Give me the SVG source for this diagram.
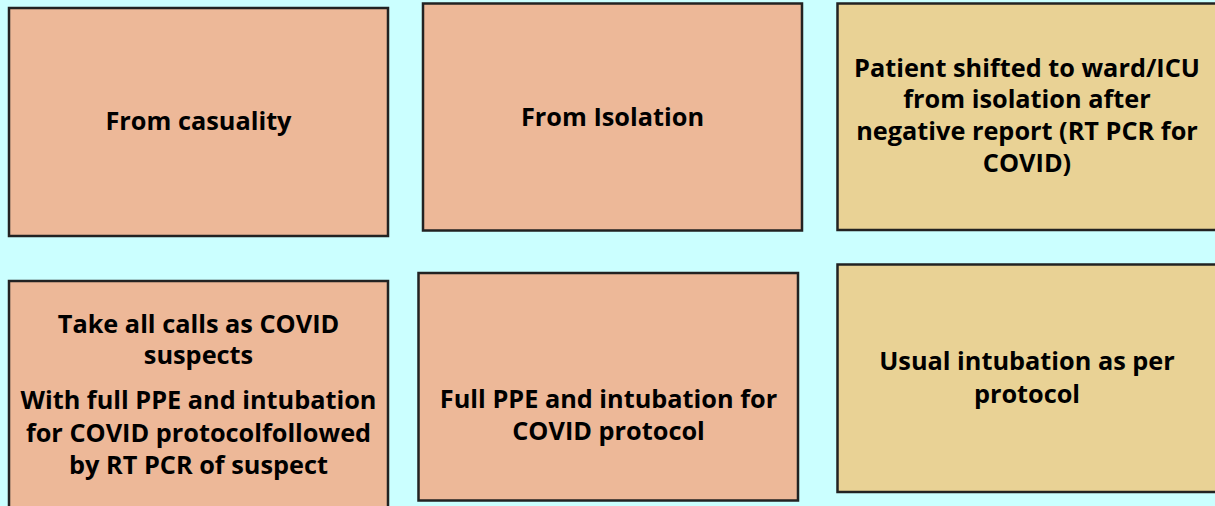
<svg xmlns="http://www.w3.org/2000/svg" width="1215" height="506" viewBox="0 0 1215 506">
<style>
.box{stroke:#222;stroke-width:2.5}
.a{fill:#EDB898}
.b{fill:#E9D295}
text{font-family:"Open Sans","Liberation Sans",sans-serif;font-weight:bold;font-size:25.3px;fill:#000;text-anchor:middle}
</style>
<rect width="1215" height="506" fill="#CBFFFF"/>
<g id="connectors"></g>
<g id="n1"><rect class="box a" x="9" y="8" width="379" height="228"/><text x="198.5" y="130">From casuality</text></g>
<g id="n2"><rect class="box a" x="423" y="3.5" width="379" height="227"/><text x="612.5" y="126">From Isolation</text></g>
<g id="n3"><rect class="box b" x="837.5" y="3.5" width="382" height="226.5"/>
<text x="1027" y="76.5">Patient shifted to ward/ICU</text>
<text x="1027" y="108.3">from isolation after</text>
<text x="1027" y="140">negative report (RT PCR for</text>
<text x="1027" y="171.7">COVID)</text></g>
<g id="n4"><rect class="box a" x="9" y="281" width="379" height="232"/>
<text x="198.5" y="332.7">Take all calls as COVID</text>
<text x="198.5" y="364">suspects</text>
<text x="198.5" y="409">With full PPE and intubation</text>
<text x="198.5" y="441.7">for COVID protocolfollowed</text>
<text x="198.5" y="473.5">by RT PCR of suspect</text></g>
<g id="n5"><rect class="box a" x="418.5" y="273" width="379.5" height="227.5"/>
<text x="608.5" y="408.3">Full PPE and intubation for</text>
<text x="608.5" y="440">COVID protocol</text></g>
<g id="n6"><rect class="box b" x="837.5" y="264.5" width="382" height="227.5"/>
<text x="1027" y="370">Usual intubation as per</text>
<text x="1027" y="402.7">protocol</text></g>
</svg>
